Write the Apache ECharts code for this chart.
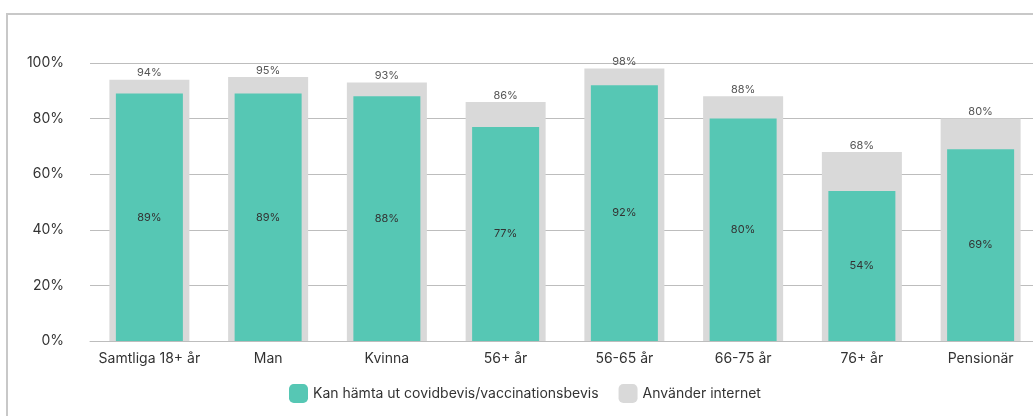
<!DOCTYPE html>
<html>
<head>
<meta charset="utf-8">
<script src="https://cdn.jsdelivr.net/npm/echarts@6/dist/echarts.min.js"></script>
<style>
    html, body { margin: 0; padding: 0; background: #fff; overflow: hidden; width: 1033px; height: 416px; }
    .frame {
        position: absolute;
        left: 6px;
        top: 13px;
        width: 1100px;
        height: 500px;
        border: 2px solid #c8c8c8;
        box-sizing: border-box;
    }
    /* chart is wider than the window: the plot area runs past the right edge */
    #chart { position: absolute; left: 0; top: 0; width: 1060px; height: 416px; }
</style>
</head>
<body>
<div class="frame"></div>
<div id="chart"></div>
<script>
    const categories = ['Samtliga 18+ år', 'Man', 'Kvinna', '56+ år', '56-65 år', '66-75 år', '76+ år', 'Pensionär'];
    const covidbevis = [89, 89, 88, 77, 92, 80, 54, 69];
    const internet = [94, 95, 93, 86, 98, 88, 68, 80];
    const yTicks = [0, 20, 40, 60, 80, 100];

    const fontFamily = 'Inter, Roboto, sans-serif';
    let chart = echarts.init(document.getElementById('chart'));

    let option = {
        animation: false,
        textStyle: { fontFamily: fontFamily },
        grid: { left: 90, top: 63, width: 950, height: 278 },
        legend: {
            data: ['Kan hämta ut covidbevis/vaccinationsbevis', 'Använder internet'],
            bottom: 8,
            left: 284,
            itemWidth: 19,
            itemHeight: 19,
            itemGap: 20,
            icon: 'roundRect',
            textStyle: { fontSize: 14, color: '#333', fontFamily: fontFamily }
        },
        xAxis: [
            {
                type: 'category',
                data: categories,
                axisTick: { show: false },
                axisLine: { lineStyle: { color: '#bdbdbd' } },
                axisLabel: { color: '#333', fontSize: 14, margin: 11, interval: 0 }
            },
            {
                type: 'category',
                data: categories,
                show: false
            }
        ],
        yAxis: {
            type: 'value',
            min: yTicks[0],
            max: yTicks[yTicks.length - 1],
            interval: 20,
            axisLabel: { formatter: '{value}%', color: '#333', fontSize: 14, margin: 26 },
            splitLine: { lineStyle: { color: '#bdbdbd' } },
            axisLine: { show: false },
            axisTick: { show: false }
        },
        series: [
            {
                name: 'Använder internet',
                type: 'bar',
                xAxisIndex: 0,
                data: internet,
                barWidth: 80,
                itemStyle: { color: '#d9d9d9' },
                label: {
                    show: true,
                    position: 'top',
                    distance: 1,
                    formatter: '{c}%',
                    color: '#555',
                    fontSize: 11
                }
            },
            {
                name: 'Kan hämta ut covidbevis/vaccinationsbevis',
                type: 'bar',
                xAxisIndex: 1,
                data: covidbevis,
                barWidth: 67,
                itemStyle: { color: '#56c7b4' },
                label: {
                    show: true,
                    position: 'inside',
                    formatter: '{c}%',
                    color: '#333',
                    fontSize: 11
                }
            }
        ]
    };
    chart.setOption(option);
</script>
</body>
</html>
